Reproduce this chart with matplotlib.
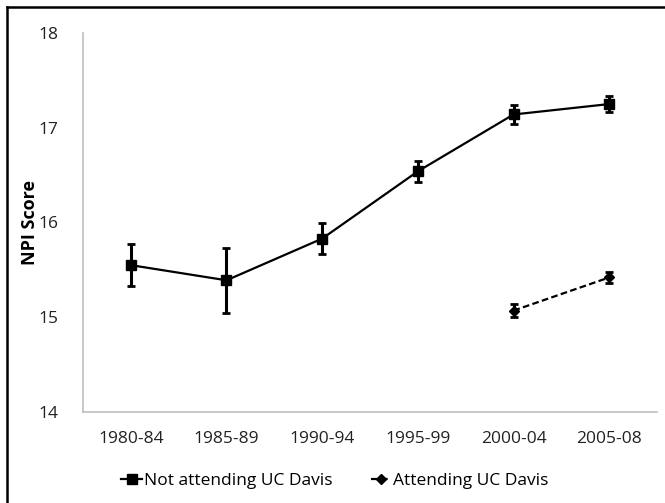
import matplotlib
matplotlib.use("Agg")
import matplotlib.pyplot as plt
from matplotlib.lines import Line2D

categories = ["1980-84", "1985-89", "1990-94", "1995-99", "2000-04", "2005-08"]
not_attending = [15.55, 15.39, 15.83, 16.54, 17.14, 17.25]
not_attending_err = [0.22, 0.34, 0.16, 0.11, 0.10, 0.08]
attending_idx = [4, 5]
attending = [15.07, 15.42]
attending_err = [0.07, 0.06]
yticks = [14, 15, 16, 17, 18]

plt.rcParams['font.family'] = ['Open Sans', 'DejaVu Sans']

fig = plt.figure(figsize=(6.65, 5.03), dpi=100)
ax = fig.add_axes([83/665, 1-412/503, (657-83)/665, (412-33)/503])

x = list(range(len(categories)))
ax.errorbar(x, not_attending, yerr=not_attending_err, color='black', lw=1.6,
            marker='s', markersize=7, elinewidth=2.2, capsize=3, capthick=2,
            label='Not attending UC Davis')
ax.errorbar(attending_idx, attending, yerr=attending_err, color='black', lw=1.6,
            ls=(0, (3, 1.5)), marker='D', markersize=5, elinewidth=2.2, capsize=3,
            capthick=2, label='Attending UC Davis')

ax.set_xlim(-0.5, len(categories) - 0.5)
ax.set_ylim(14, 18)
ax.set_xticks(x)
ax.set_xticklabels(categories)
ax.set_yticks(yticks)
ax.tick_params(length=0, labelsize=12.5, colors='#222222')
ax.tick_params(axis='x', pad=14)
ax.tick_params(axis='y', pad=18)
for s in ['top', 'right']:
    ax.spines[s].set_visible(False)
for s in ['left', 'bottom']:
    ax.spines[s].set_color('#BFBFBF')
    ax.spines[s].set_linewidth(1.2)
ax.set_ylabel('NPI Score', fontsize=13, fontweight='bold')
ax.yaxis.set_label_coords(-0.076, 0.5)

h, l = ax.get_legend_handles_labels()
handles = [Line2D([], [], color='black', lw=1.6, marker='s', markersize=7),
           Line2D([], [], color='black', lw=1.6, ls=(0, (3, 1.5)), marker='D', markersize=5)]
fig.legend(handles, l, loc='center', bbox_to_anchor=(335/665, 1-481/503), ncol=2,
           frameon=False, fontsize=12.5, handlelength=1.2, handletextpad=0.1,
           columnspacing=2.2)

fig.add_artist(Line2D([6.5/665, 6.5/665], [0, 1-6.5/503], color='black', lw=1.8,
                      transform=fig.transFigure))
fig.add_artist(Line2D([6.5/665, 1], [1-6.5/503, 1-6.5/503], color='black', lw=1.8,
                      transform=fig.transFigure))

fig.savefig('out.png', dpi=100)
